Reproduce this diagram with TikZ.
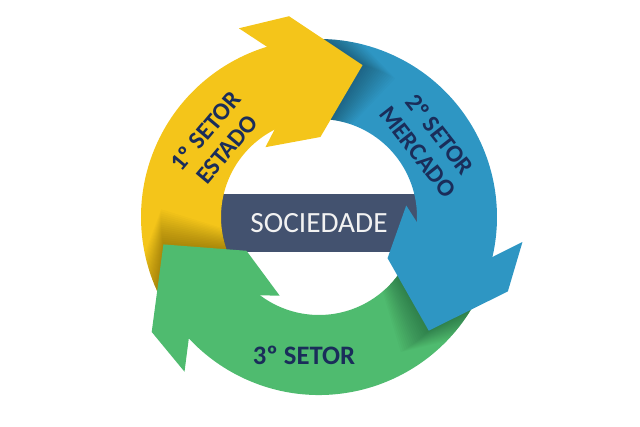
\documentclass[tikz,border=0pt]{standalone}
\usepackage{fontspec}
\setmainfont{Carlito}

\definecolor{ouro}{HTML}{F4C51A}
\definecolor{azul}{HTML}{2E96C3}
\definecolor{verde}{HTML}{4FBB6F}
\definecolor{ardosia}{HTML}{43526F}
\definecolor{marinho}{HTML}{1A2D5A}

% ring band from the tail (#2) back to the head (#1 = tip angle)
\newcommand{\shaftband}[2]{({#2}:178) arc[start angle={#2}, end angle={#1+30}, radius=178] -- ({#1+40}:98) arc[start angle={#1+40}, end angle={#2}, radius=98] -- cycle}
% arrow head, tip at angle #1
\newcommand{\headshape}[1]{({#1+33}:178) -- ({#1+39}:205) -- ({#1+24.5}:203) -- ({#1}:158) -- ({#1+15}:80) -- ({#1+53.5}:88) -- ({#1+43}:98) -- cycle}

\begin{document}
\begin{tikzpicture} [x=0.75pt, y=0.75pt, box/.style={rectangle, fill=ardosia, text=white!95!black, minimum width=165pt, minimum height=44pt, font=\fontsize{22}{26}\selectfont}, lbl/.style={text=marinho, align=center, font=\bfseries\fontsize{18.5}{21}\selectfont}]
  \useasboundingbox (-319,-210) rectangle (321,217);
  % Center block
  \node [box] (sociedade) at (0,-6) {SOCIEDADE};
  % Shafts, each with the shadow of the head before it
  \foreach \tip/\tail/\prev/\col in {74/212/190/ouro, -46/96/74/azul, 190/336/314/verde} {
    \fill [\col] \shaftband{\tip}{\tail};
    \begin{scope}
      \clip \shaftband{\tip}{\tail};
      \foreach \k in {1,...,16}
        \fill [black, opacity=.02] \headshape{\prev-0.8*\k};
    \end{scope}
  }
  % Heads
  \foreach \tip/\col in {74/ouro, -46/azul, 190/verde}
    \fill [\col] \headshape{\tip};
  % Labels
  \node [lbl, rotate=50] (estado) at (-103,77) {1º SETOR\\ESTADO};
  \node [lbl, rotate=-52] (mercado) at (110,74) {2º SETOR\\MERCADO};
  \node [lbl, font=\bfseries\fontsize{20}{24}\selectfont] (terceiro) at (-15,-138) {3º SETOR};
\end{tikzpicture}
\end{document}
